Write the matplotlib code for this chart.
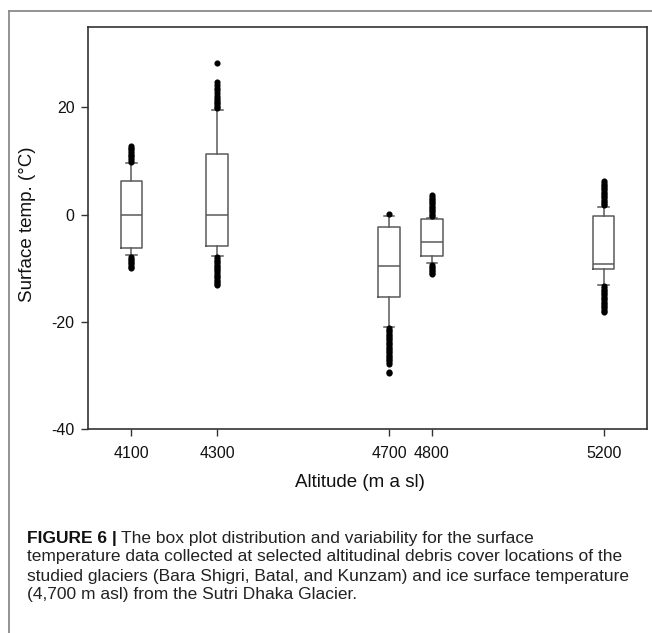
import matplotlib
matplotlib.use("Agg")
import matplotlib.pyplot as plt
from matplotlib.lines import Line2D

plt.rcParams['font.family'] = ['Liberation Sans', 'DejaVu Sans']

# altitude of each sampling site (m a.s.l.)
altitude = [4100, 4300, 4700, 4800, 5200]

# box statistics (deg C)
q1 = [-6.3, -5.9, -15.3, -7.8, -10.2]
median = [-0.1, -0.1, -9.6, -5.2, -9.2]
q3 = [6.3, 11.3, -2.4, -0.9, -0.2]
whislo = [-7.6, -7.7, -20.9, -9.1, -13.1]
whishi = [9.6, 19.5, -0.2, -0.6, 1.4]

# outliers (dense dots above / below the whiskers)
fliers_4100 = [9.9, 10.2, 10.5, 10.9, 11.2, 11.5, 11.9, 12.2, 12.5, 12.8,
               -7.9, -8.2, -8.5, -8.8, -9.1, -9.4, -9.7, -10.0]
fliers_4300 = [19.8, 20.1, 20.4, 20.8, 21.1, 21.4, 21.8, 22.1, 22.6, 23.2,
               23.6, 24.2, 24.7, 28.2,
               -8.0, -8.3, -8.6, -8.9, -9.2, -9.5, -9.8, -10.1, -10.4, -10.7,
               -11.0, -11.4, -11.7, -12.0, -12.3, -12.6, -12.9, -13.1]
fliers_4700 = [0.1,
               -21.2, -21.5, -21.8, -22.1, -22.4, -22.7, -23.0, -23.3, -23.6,
               -23.9, -24.2, -24.5, -24.8, -25.1, -25.4, -25.7, -26.0, -26.3,
               -26.6, -26.9, -27.2, -27.5, -27.9, -29.3, -29.6]
fliers_4800 = [-0.3, 0.0, 0.3, 0.6, 0.9, 1.2, 1.5, 1.8, 2.1, 2.4, 2.7, 3.0,
               3.3, 3.7,
               -9.4, -9.7, -10.0, -10.3, -10.6, -10.9, -11.1]
fliers_5200 = [1.7, 2.0, 2.3, 2.6, 2.9, 3.2, 3.5, 3.8, 4.1, 4.4, 4.7, 5.0,
               5.3, 5.6, 5.9, 6.3,
               -13.4, -13.7, -14.0, -14.3, -14.6, -14.9, -15.2, -15.5, -15.8,
               -16.1, -16.4, -16.7, -17.0, -17.3, -17.6, -17.9, -18.1]
fliers = [fliers_4100, fliers_4300, fliers_4700, fliers_4800, fliers_5200]

yticks = [-40, -20, 0, 20]
caption_bold = "FIGURE 6 |"
caption_lines = [
    "The box plot distribution and variability for the surface",
    "temperature data collected at selected altitudinal debris cover locations of the",
    "studied glaciers (Bara Shigri, Batal, and Kunzam) and ice surface temperature",
    "(4,700 m asl) from the Sutri Dhaka Glacier.",
]

W, H = 652, 633
fig = plt.figure(figsize=(W / 100, H / 100), dpi=100)
ax = fig.add_axes([88.3 / W, 1 - 429 / H, 558.4 / W, 402 / H])

stats = []
for i in range(len(altitude)):
    stats.append(dict(med=median[i], q1=q1[i], q3=q3[i],
                      whislo=whislo[i], whishi=whishi[i], fliers=fliers[i]))

box_col = '#5a5a5a'
ax.bxp(stats, positions=altitude, widths=50, manage_ticks=False,
       boxprops=dict(color=box_col, linewidth=1.1),
       medianprops=dict(color=box_col, linewidth=1.1),
       whiskerprops=dict(color=box_col, linewidth=1.1),
       capprops=dict(color=box_col, linewidth=1.1),
       flierprops=dict(marker='o', markersize=3.4, markerfacecolor='black',
                       markeredgecolor='black', linestyle='none'))

ax.set_xlim(4000, 5300)
ax.set_ylim(-40, 35)
ax.set_xticks(altitude)
ax.set_xticklabels([str(a) for a in altitude])
ax.set_yticks(yticks)
ax.set_yticklabels([str(v) for v in yticks])
ax.tick_params(axis='both', direction='out', length=5, width=1,
               color='#333333', labelsize=11.5, labelcolor='#111111')
ax.tick_params(axis='y', pad=5)
ax.tick_params(axis='x', pad=7)
for s in ax.spines.values():
    s.set_linewidth(1.2)
    s.set_color('#333333')

ax.set_xlabel("Altitude (m a sl)", fontsize=13.5, color='#111111')
ax.xaxis.set_label_coords(0.487, -0.112)
ax.set_ylabel("Surface temp. (°C)", fontsize=13.5, color='#111111')
ax.yaxis.set_label_coords(-0.093, 0.51)

# card frame (top and left edges)
fr = '#8a8a8a'
fig.add_artist(Line2D([9 / W, 1], [1 - 10.7 / H, 1 - 10.7 / H],
                      transform=fig.transFigure, color=fr, lw=1.3))
fig.add_artist(Line2D([9.3 / W, 9.3 / W], [0, 1 - 10.7 / H],
                      transform=fig.transFigure, color=fr, lw=1.3))

# caption: size fitted so the long line spans the caption width
renderer = fig.canvas.get_renderer()
probe = fig.text(0, 0, caption_lines[1], fontsize=10)
wpx = probe.get_window_extent(renderer).width
probe.remove()
cap_size = 10 * 598 / wpx

x0 = 27 / W
line_y = [538, 557, 576, 595]
bold = fig.text(x0, 1 - line_y[0] / H, caption_bold, fontsize=cap_size,
                fontweight='bold', va='center', color='#111111')
ax.annotate(caption_lines[0], xy=(1, 0.5), xycoords=bold,
            xytext=(3, 0), textcoords='offset points', va='center',
            fontsize=cap_size, color='#222222', annotation_clip=False)
for txt, yy in zip(caption_lines[1:], line_y[1:]):
    fig.text(x0, 1 - yy / H, txt, fontsize=cap_size, va='center',
             color='#222222')

fig.savefig("out.png", dpi=100)
